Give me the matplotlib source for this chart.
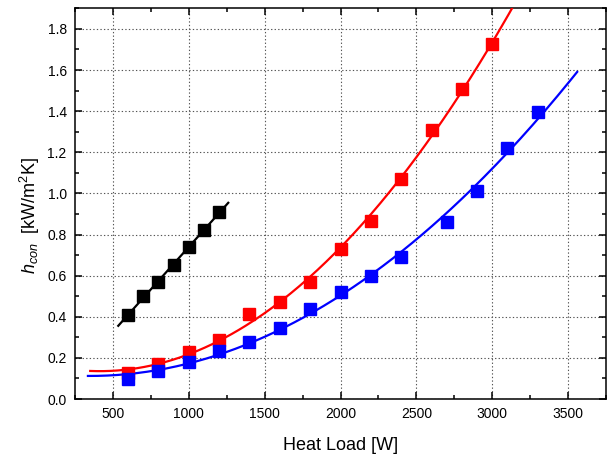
import numpy as np
import matplotlib
matplotlib.use("Agg")
import matplotlib.pyplot as plt
from matplotlib.ticker import MultipleLocator

plt.rcParams['font.family'] = ['Liberation Sans', 'DejaVu Sans']
plt.rcParams['mathtext.fontset'] = 'custom'
plt.rcParams['mathtext.rm'] = 'Liberation Sans'
plt.rcParams['mathtext.it'] = 'Liberation Sans:italic'

# black series
x_black = [600, 700, 800, 900, 1000, 1100, 1200]
y_black = [0.41, 0.50, 0.57, 0.65, 0.74, 0.82, 0.91]

# red series
x_red = [600, 800, 1000, 1200, 1400, 1600, 1800, 2000, 2200, 2400, 2600, 2800, 3000]
y_red = [0.125, 0.17, 0.23, 0.287, 0.415, 0.47, 0.57, 0.73, 0.865, 1.07, 1.306, 1.508, 1.728]

# blue series
x_blue = [600, 800, 1000, 1200, 1400, 1600, 1800, 2000, 2200, 2400, 2700, 2900, 3100, 3300]
y_blue = [0.096, 0.138, 0.18, 0.235, 0.279, 0.347, 0.437, 0.52, 0.60, 0.69, 0.86, 1.01, 1.22, 1.396]

# fit ranges
black_fit_range = (535, 1260)
red_fit_range = (350, 3300)
blue_fit_range = (335, 3560)


def fit_line(x, y, deg, xr):
    p = np.polyfit(x, y, deg)
    xs = np.linspace(xr[0], xr[1], 200)
    return xs, np.polyval(p, xs)


def main():
    fig = plt.figure(figsize=(6.08, 4.57), dpi=100)
    ax = fig.add_axes([0.1234, 0.1269, 0.8733, 0.8549])

    for x, y, c, deg, xr in [(x_black, y_black, 'black', 1, black_fit_range),
                             (x_red, y_red, '#ff0000', 2, red_fit_range),
                             (x_blue, y_blue, '#0000ff', 2, blue_fit_range)]:
        xs, ys = fit_line(x, y, deg, xr)
        ax.plot(xs, ys, color=c, lw=1.6, zorder=3)
        ax.plot(x, y, 's', color=c, ms=8, zorder=4)

    ax.set_xlim(250, 3750)
    ax.set_ylim(0, 1.9)
    ax.xaxis.set_major_locator(MultipleLocator(500))
    ax.xaxis.set_minor_locator(MultipleLocator(250))
    ax.yaxis.set_major_locator(MultipleLocator(0.2))
    ax.yaxis.set_minor_locator(MultipleLocator(0.1))
    ax.yaxis.set_major_formatter(matplotlib.ticker.FormatStrFormatter('%.1f'))

    ax.tick_params(which='both', direction='in', top=True, right=True,
                   labelsize=10, width=1.1, pad=6)
    ax.tick_params(which='major', length=5)
    ax.tick_params(which='minor', length=3)
    for s in ax.spines.values():
        s.set_linewidth(1.1)

    ax.grid(True, which='major', ls=(0, (1.2, 2.0)), color='#555555', lw=0.8)
    ax.set_axisbelow(True)

    ax.set_xlabel('Heat Load [W]', fontsize=13, labelpad=11)
    ax.set_ylabel(r'$h_{con}$\ [kW/m$^2$K]'.replace('\\ ', '  '), fontsize=13, labelpad=4)
    ax.yaxis.label.set_y(0.47)

    fig.savefig('out.png', dpi=100)


if __name__ == "__main__":
    main()
